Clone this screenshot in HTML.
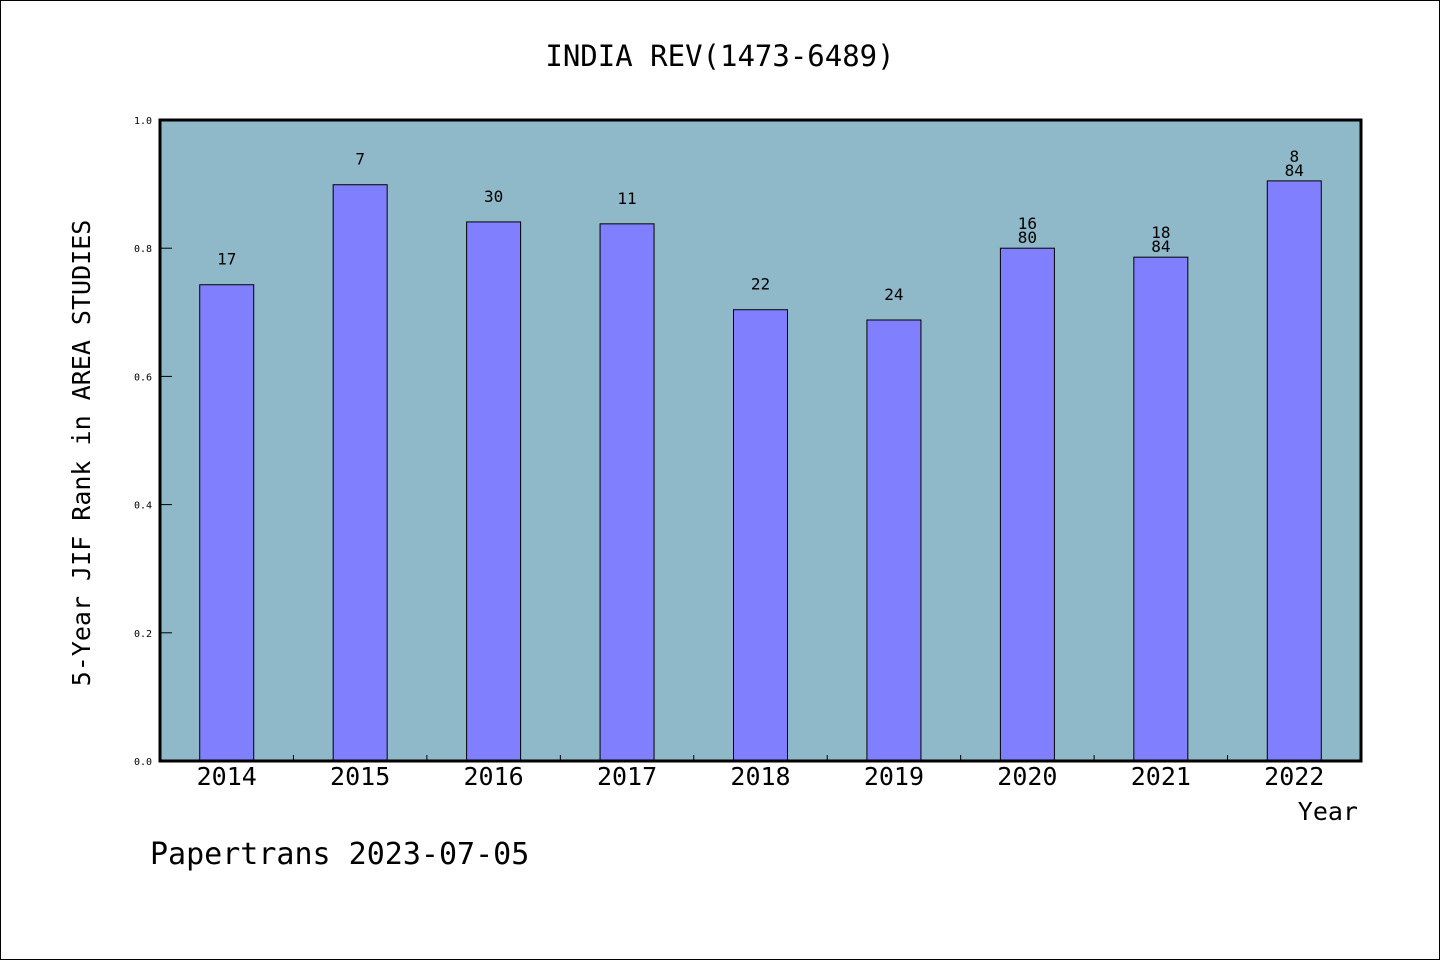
<!DOCTYPE html>
<html><head><meta charset="utf-8"><style>
body{margin:0;background:#fff}
svg text{font-family:"DejaVu Sans Mono","Liberation Mono",monospace;fill:#000}
</style></head><body>
<svg id="chart" width="1440" height="960" xmlns="http://www.w3.org/2000/svg">
<rect x="0.5" y="0.5" width="1439" height="959" fill="#fff" stroke="#000"/>
<text x="720" y="66" font-size="29" text-anchor="middle">INDIA REV(1473-6489)</text>
<rect x="160" y="120" width="1201" height="641" fill="#8fb8c8"/>
<g id="bars"></g>
<rect x="160" y="120" width="1201" height="641" fill="none" stroke="#000" stroke-width="3"/>
<text transform="translate(90,453) rotate(-90)" font-size="25" text-anchor="middle">5-Year JIF Rank in AREA STUDIES</text>
<text x="1358" y="820" font-size="25" text-anchor="end">Year</text>
<text x="150" y="864" font-size="30">Papertrans 2023-07-05</text>
</svg>
<script>
const years=["2014","2015","2016","2017","2018","2019","2020","2021","2022"];
const values=[0.743,0.899,0.841,0.838,0.704,0.688,0.800,0.786,0.905];
const ranks=["17","7","30","11","22","24","16","18","8"];
const totals=["","","","","","","80","84","84"];
const yTicks=[0,0.2,0.4,0.6,0.8,1.0];
const X0=160,X1=1361,Y0=761,Y1=120;
const band=(X1-X0)/years.length;
const xc=i=>X0+band*(i+0.5);
const ys=v=>Y0-(Y0-Y1)*v;
const g=document.getElementById('bars');
const NS="http://www.w3.org/2000/svg";
function mk(t,a){const e=document.createElementNS(NS,t);for(const k in a)e.setAttribute(k,a[k]);return e;}
yTicks.forEach(v=>{
 const l=mk('line',{x1:X0,x2:X0+12,y1:ys(v),y2:ys(v),stroke:'#000'});
 
 
 g.appendChild(l);
 const t=mk('text',{x:X0-8,y:ys(v)+4,'font-size':10,'text-anchor':'end'});
 t.textContent=v.toFixed(1);
 
 
 g.appendChild(t);
});
years.forEach((y,i)=>{
 const r=mk('rect',{x:xc(i)-27,y:ys(values[i]),width:54,height:Y0-ys(values[i]),fill:'#8080ff',stroke:'#000','stroke-width':1});
 
 
 g.appendChild(r);
 if(i>0){const tk=mk('line',{x1:X0+band*i,x2:X0+band*i,y1:Y0,y2:Y0-6,stroke:'#000'});
 
 
 g.appendChild(tk);}
 const xl=mk('text',{x:xc(i),y:785,'font-size':25,'text-anchor':'middle'});
 xl.textContent=y;
 
 
 g.appendChild(xl);
 const top=ys(values[i]);
 if(totals[i]){
  const a=mk('text',{x:xc(i),y:top-19,'font-size':16,'text-anchor':'middle'});a.textContent=ranks[i];
  
  
  g.appendChild(a);
  const b=mk('text',{x:xc(i),y:top-5,'font-size':16,'text-anchor':'middle'});b.textContent=totals[i];
  
  
  g.appendChild(b);
 }else{
  const a=mk('text',{x:xc(i),y:top-20,'font-size':16,'text-anchor':'middle'});a.textContent=ranks[i];
  
  
  g.appendChild(a);
 }
});
</script>
</body></html>
